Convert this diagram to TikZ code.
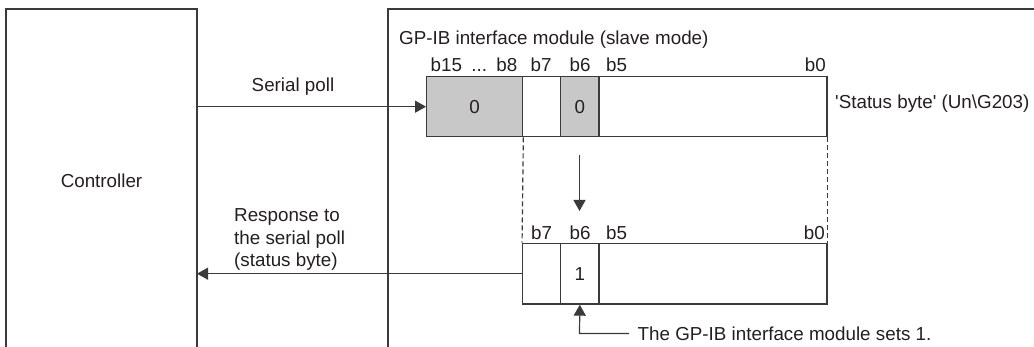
\documentclass[tikz,border=0pt]{standalone}
\usepackage{fontspec}
\setmainfont{Liberation Sans}[Ligatures=TeXOff]
\usetikzlibrary{arrows.meta,calc}
\definecolor{ln}{HTML}{3A3A3A}
\definecolor{tx}{HTML}{231F20}
\definecolor{shade}{HTML}{C8C8C8}
\begin{document}
\begin{tikzpicture}[x=1pt,y=-1pt,
  every node/.style={font=\fontsize{18.8}{22.7}\selectfont, text=tx},
  frame/.style={draw=ln, line width=1.3pt},
  cell/.style={draw=ln, line width=1.3pt, minimum height=60pt, inner sep=0pt},
  shaded/.style={cell, fill=shade},
  lbl/.style={inner sep=0pt, anchor=base},
  arr/.style={draw=ln, line width=1.2pt, -{Triangle[length=11pt,width=12pt]}},
  dashline/.style={draw=ln, line width=1.2pt, dash pattern=on 5pt off 3pt}
]
\useasboundingbox (0,0) rectangle (1034,347);
% frames
\coordinate (ctlBL) at (6,347);
\coordinate (ctlTL) at (6,9);
\coordinate (ctlTR) at (197,9);
\coordinate (ctlBR) at (197,347);
\draw[frame] (ctlBL) -- (ctlTL) -- (ctlTR) -- (ctlBR);
\coordinate (modBL) at (388,347);
\coordinate (modTL) at (388,9);
\coordinate (modTR) at (1034,9);
\draw[frame] (modBL) -- (modTL) -- (modTR);
\node (ctl) at (101.5,181) {Controller};
\node[anchor=base west, inner sep=0pt] (modtitle) at (399,45) {GP-IB interface module (slave mode)};

% top register
\node[shaded, minimum width=96pt] (c15) at (474.7,106.7) {0};
\node[cell, minimum width=38pt] (c7) at (541.7,106.7) {};
\node[shaded, minimum width=38.3pt] (c6) at (579.85,106.7) {0};
\node[cell, minimum width=228pt] (c50) at (713,106.7) {};
\node[lbl] (t15) at (474,72) {b15\enspace...\enspace b8};
\node[lbl] (t7) at (541,72) {b7};
\node[lbl] (t6) at (580,72) {b6};
\node[lbl] (t5) at (616.5,72) {b5};
\node[inner sep=0pt, anchor=base east] (t0) at (826,72) {b0};
\node[anchor=west, inner sep=0pt] (sb) at (835,104) {'Status byte' (Un\textbackslash G203)};

% bottom register
\node[cell, minimum width=38pt, minimum height=60.7pt] (d7) at (541.7,273.7) {};
\node[cell, minimum width=38.3pt, minimum height=60.7pt] (d6) at (579.85,273.7) {1};
\node[cell, minimum width=228pt, minimum height=60.7pt] (d50) at (713,273.7) {};
\node[lbl] (u7) at (541.5,239.5) {b7};
\node[lbl] (u6) at (580,239.5) {b6};
\node[lbl] (u5) at (616.5,239.5) {b5};
\node[inner sep=0pt, anchor=base east] (u0) at (825,239.5) {b0};

% dashed projection
\draw[dashline] (c15.south east) -- (d7.north west);
\draw[dashline] (c50.south east) -- (d50.north east);

% down arrow
\coordinate (dnA) at (579.5,155);
\coordinate (dnB) at (579.5,211);
\draw[arr] (dnA) -- (dnB);

% serial poll
\coordinate (spS) at (197,106.7);
\draw[arr] (spS) -- (c15.west);
\node (splbl) at (293,87) {Serial poll};

% response
\coordinate (rsE) at (197,273.7);
\draw[arr] (d7.west) -- (rsE);
\node[anchor=west, align=left, inner sep=0pt] (rslbl) at (234,239.5) {Response to\\the serial poll\\(status byte)};

% sets 1
\node[anchor=west, inner sep=0pt] (setlbl) at (637.5,333.5) {The GP-IB interface module sets 1.};
\coordinate (setS) at (629,333.5);
\coordinate (setC) at (579.5,333.5);
\draw[arr] (setS) -- (setC) -- (d6.south);
\end{tikzpicture}
\end{document}
